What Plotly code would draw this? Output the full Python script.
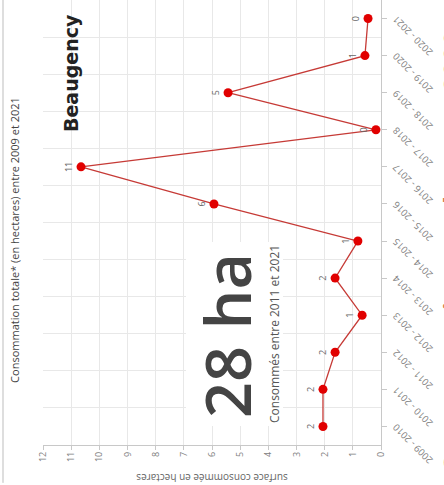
import plotly.graph_objects as go

# ---- data -------------------------------------------------------------
periods = ["2009 - 2010", "2010 - 2011", "2011 - 2012", "2012 - 2013",
           "2013 - 2014", "2014 - 2015", "2015 - 2016", "2016 - 2017",
           "2017 - 2018", "2018 - 2019", "2019 - 2020", "2020 - 2021"]
hectares = [2.06, 2.06, 1.63, 0.67, 1.63, 0.82, 5.93, 10.65, 0.18, 5.43, 0.57, 0.46]
value_ticks = list(range(0, 13))
commune = "Beaugency"
recent_start = 2  # first period counted in the headline figure (2011 - 2012)

total_recent = round(sum(hectares[recent_start:]))

# ---- geometry of the (unrotated) figure --------------------------------
W, H = 485, 444
ML, MR, MT, MB = 38, 0, 43, 63
PW, PH = W - ML - MR, H - MT - MB


def fx(px):
    return (px - ML) / PW


def fy(py):
    return (H - MB - py) / PH


FONT = "Open Sans, Arial, sans-serif"

fig = go.Figure()
fig.add_trace(go.Scatter(
    x=list(range(len(periods))),
    y=hectares,
    mode="lines+markers+text",
    line=dict(color="#c63a36", width=1.3),
    marker=dict(color="#e10000", size=9),
    texttemplate="%{y:.0f}",
    textposition="top center",
    textfont=dict(size=9, color="#666666", family=FONT),
    cliponaxis=False,
    hoverinfo="skip",
))

fig.update_layout(
    width=W, height=H,
    margin=dict(l=ML, r=MR, t=MT, b=MB, pad=0),
    paper_bgcolor="white", plot_bgcolor="white",
    showlegend=False,
    font=dict(family=FONT, color="#555555"),
    title=dict(
        text="Consommation totale* (en hectares) entre 2009 et 2021",
        x=245 / W, xref="container", xanchor="center",
        y=1 - 15 / H, yref="container", yanchor="middle",
        font=dict(size=11, color="#444444", family=FONT),
    ),
    xaxis=dict(
        range=[-0.5, len(periods) - 0.5],
        tickmode="array", tickvals=list(range(len(periods))), ticktext=periods,
        tickangle=-45, tickfont=dict(size=9.5, color="#808080", family=FONT),
        showgrid=False, zeroline=False,
        showline=True, linecolor="#c8c8c8", linewidth=1,
        ticks="outside", ticklen=5, tickcolor="#c8c8c8",
        minor=dict(tickmode="linear", tick0=0.5, dtick=1, showgrid=True,
                   gridcolor="#e8e8e8", gridwidth=1, ticks=""),
        fixedrange=True,
    ),
    yaxis=dict(
        range=[0, 12], tickmode="array", tickvals=value_ticks,
        tickfont=dict(size=9, color="#808080", family=FONT),
        showgrid=True, gridcolor="#e8e8e8", gridwidth=1, zeroline=False,
        showline=True, linecolor="#c8c8c8", linewidth=1,
        ticks="outside", ticklen=4, tickcolor="#c8c8c8",
        title=dict(text="surface consommée en hectares",
                   font=dict(size=10, color="#666666", family=FONT), standoff=16),
        fixedrange=True,
    ),
    shapes=[
        # thin frame line along the top of the card
        dict(type="line", xref="paper", yref="paper",
             x0=fx(0), x1=fx(W), y0=fy(3), y1=fy(3),
             line=dict(color="#bdbdbd", width=1), layer="above"),
        # white panel behind the headline figure
        dict(type="rect", xref="paper", yref="paper",
             x0=fx(57), x1=fx(242), y0=fy(283), y1=fy(186),
             fillcolor="white", line=dict(width=0), layer="above"),
    ],
    annotations=[
        dict(text=f"<b>{commune}</b>", xref="paper", yref="paper",
             x=fx(473), y=fy(71), xanchor="right", yanchor="middle",
             showarrow=False,
             font=dict(size=19, color="#222222", family="DejaVu Sans")),
        dict(text=f"{total_recent} ha", xref="paper", yref="paper",
             x=fx(148), y=fy(226), xanchor="center", yanchor="middle",
             showarrow=False,
             font=dict(size=63, color="#444444", family=FONT, weight=600)),
        dict(text=f"Consommés entre {periods[recent_start][:4]} et {periods[-1][-4:]}",
             xref="paper", yref="paper",
             x=fx(149), y=fy(274), xanchor="center", yanchor="middle",
             showarrow=False,
             font=dict(size=12, color="#555555", family=FONT)),
        dict(text="<b>Consommation totale entre 2009 et 2021</b>",
             xref="paper", yref="paper",
             x=fx(8), y=fy(432), xanchor="left", yanchor="top",
             showarrow=False,
             font=dict(size=27, color="#d5804f", family=FONT)),
    ],
)

# The card is displayed turned a quarter turn anticlockwise.
rotate_js = """
var gd = document.getElementById('{plot_id}');
document.documentElement.style.margin = '0';
document.body.style.margin = '0';
document.documentElement.style.overflow = 'hidden';
document.body.style.overflow = 'hidden';
gd.style.position = 'absolute';
gd.style.left = '0px';
gd.style.top = '0px';
gd.style.transformOrigin = '0 0';
gd.style.transform = 'translate(0px, %dpx) rotate(-90deg)';
""" % W

fig.write_html("out.html", config={"displayModeBar": False, "staticPlot": True},
               post_script=rotate_js)
